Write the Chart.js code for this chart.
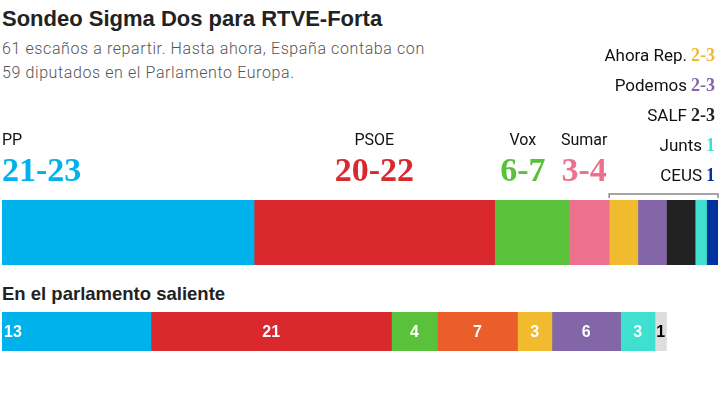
<!DOCTYPE html>
<html>
<head>
<meta charset="utf-8">
<script src="https://cdn.jsdelivr.net/npm/chart.js@4.4.1/dist/chart.umd.min.js"></script>
<style>
  body { margin: 0; background: #fff; }
  #wrap { position: relative; width: 720px; height: 405px; overflow: hidden; font-family: Roboto, "Liberation Sans", sans-serif; }
  .abs { position: absolute; }
  #title { left: 2px; top: 6px; font-family: "Liberation Sans", Arial, sans-serif; font-size: 22px; font-weight: 700; color: #222; white-space: nowrap; }
  #sub { left: 2px; top: 37px; font-size: 16px; line-height: 24px; color: #555; font-weight: 300; letter-spacing: 0.6px; }
  #past { left: 2px; top: 283px; font-family: "Liberation Sans", Arial, sans-serif; font-size: 18.5px; font-weight: 700; color: #222; white-space: nowrap; }
</style>
</head>
<body>
<div id="wrap">
  <div id="title" class="abs">Sondeo Sigma Dos para RTVE-Forta</div>
  <div id="sub" class="abs">61 escaños a repartir. Hasta ahora, España contaba con<br>59 diputados en el Parlamento Europa.</div>
  <div id="past" class="abs">En el parlamento saliente</div>
  <canvas id="pollChart" class="abs" width="720" height="266" style="left:0;top:0"></canvas>
  <canvas id="pastChart" class="abs" width="720" height="39" style="left:0;top:312px"></canvas>
</div>
<script>
// encuesta: escaños mínimo y máximo
const pollParties = ['PP', 'PSOE', 'Vox', 'Sumar', 'Ahora Rep.', 'Podemos', 'SALF', 'Junts', 'CEUS'];
const pollLow = [21, 20, 6, 3, 2, 2, 2, 1, 1];
const pollHigh = [23, 22, 7, 4, 3, 3, 3, 1, 1];
const pollColors = ['#00b2eb', '#d9292f', '#5ac13a', '#ed718e', '#f0bb2f', '#8366a8', '#222222', '#40e0d0', '#0033a0'];

// parlamento saliente
const pastParties = ['PP', 'PSOE', 'Vox', 'Cs', 'Ahora Rep.', 'Podemos', 'Junts', 'CEUS'];
const pastSeats = [13, 21, 4, 7, 3, 6, 3, 1];
const pastColors = ['#00b2eb', '#d9292f', '#5ac13a', '#ea5e2c', '#f0bb2f', '#8366a8', '#40e0d0', '#dddddd'];

const pollMid = pollLow.map((lo, i) => (lo + pollHigh[i]) / 2);
const seatMax = pollMid.reduce((a, b) => a + b, 0);
const rangeText = (i) => pollLow[i] === pollHigh[i] ? `${pollLow[i]}` : `${pollLow[i]}-${pollHigh[i]}`;

const SANS = 'Roboto, "Liberation Sans", sans-serif';
const SERIF = '"Liberation Serif", "DejaVu Serif", serif';

function barOptions(padding) {
    return {
        indexAxis: 'y',
        responsive: false,
        animation: false,
        devicePixelRatio: 1,
        layout: { padding: padding },
        plugins: { legend: { display: false }, tooltip: { enabled: false } },
        scales: {
            x: { display: false, stacked: true, min: 0, max: seatMax },
            y: { display: false, stacked: true }
        }
    };
}

function makeDatasets(values, colors) {
    return values.map((v, i) => ({
        data: [v],
        backgroundColor: colors[i],
        borderWidth: 0,
        barPercentage: 1,
        categoryPercentage: 1
    }));
}

const pollLabels = {
    id: 'pollLabels',
    afterDatasetsDraw(chart) {
        const ctx = chart.ctx;
        const nudge = [0, 0, -9, -5];
        const bars = chart.data.datasets.map((d, i) => chart.getDatasetMeta(i).data[0].getProps(['x', 'base', 'y', 'height'], true));
        ctx.save();
        // grandes partidos encima de la barra
        for (let i = 0; i < 4; i++) {
            const b = bars[i];
            let x = (b.x + b.base) / 2 + nudge[i];
            ctx.textAlign = 'center';
            if (i === 0) { x = b.base; ctx.textAlign = 'left'; }
            ctx.textBaseline = 'alphabetic';
            ctx.fillStyle = '#111';
            ctx.font = '16px ' + SANS;
            ctx.fillText(pollParties[i], x, 145);
            ctx.fillStyle = pollColors[i];
            ctx.font = 'bold 34px ' + SERIF;
            ctx.fillText(rangeText(i), x, 181);
        }
        // pequeños a la derecha
        const right = 715;
        for (let i = 4; i < pollParties.length; i++) {
            const y = 61 + (i - 4) * 30;
            ctx.textAlign = 'right';
            ctx.font = 'bold 18px ' + SERIF;
            ctx.fillStyle = pollColors[i];
            const num = rangeText(i);
            ctx.fillText(num, right, y);
            const w = ctx.measureText(num).width;
            ctx.font = '17px ' + SANS;
            ctx.fillStyle = '#111';
            ctx.fillText(pollParties[i], right - w - 4, y);
        }
        // corchete sobre los pequeños
        const x0 = bars[4].base, x1 = bars[bars.length - 1].x;
        const top = bars[0].y - bars[0].height / 2 - 6;
        ctx.strokeStyle = '#888';
        ctx.lineWidth = 1.5;
        ctx.beginPath();
        ctx.moveTo(x0, top + 4);
        ctx.lineTo(x0, top);
        ctx.lineTo(x1, top);
        ctx.lineTo(x1, top + 4);
        ctx.stroke();
        ctx.restore();
    }
};

const pastLabels = {
    id: 'pastLabels',
    afterDatasetsDraw(chart) {
        const ctx = chart.ctx;
        ctx.save();
        ctx.font = 'bold 16px "Liberation Sans", Arial, sans-serif';
        ctx.textBaseline = 'middle';
        chart.data.datasets.forEach((d, i) => {
            const b = chart.getDatasetMeta(i).data[0].getProps(['x', 'base', 'y'], true);
            const light = pastColors[i] === '#dddddd';
            ctx.fillStyle = light ? '#000' : '#fff';
            if (i === 0) {
                ctx.textAlign = 'left';
                ctx.fillText(String(pastSeats[i]), b.base + 2, b.y + 1);
            } else {
                ctx.textAlign = 'center';
                ctx.fillText(String(pastSeats[i]), (b.x + b.base) / 2, b.y + 1);
            }
        });
        ctx.restore();
    }
};

new Chart(document.getElementById('pollChart'), {
    type: 'bar',
    data: { labels: ['Sondeo'], datasets: makeDatasets(pollMid, pollColors) },
    options: barOptions({ top: 200, left: 2, right: 2, bottom: 1 }),
    plugins: [pollLabels]
});

new Chart(document.getElementById('pastChart'), {
    type: 'bar',
    data: { labels: ['Saliente'], datasets: makeDatasets(pastSeats, pastColors) },
    options: barOptions({ top: 0, left: 2, right: 2, bottom: 0 }),
    plugins: [pastLabels]
});
</script>
</body>
</html>
